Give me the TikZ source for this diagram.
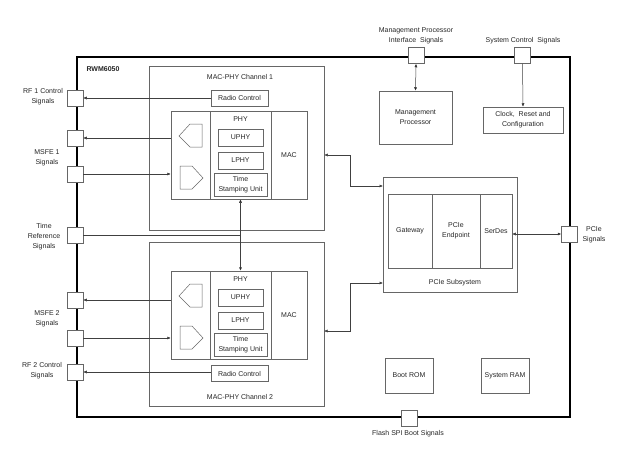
\documentclass[tikz,border=0pt]{standalone}
\usepackage{fontspec}
\setmainfont{Liberation Sans}
\usepackage{tikz}
\usetikzlibrary{%
  positioning,%
  arrows.meta%
}
\tikzset{
  every node/.style={font=\fontsize{7}{10}\selectfont, text=black!85},
  blk/.style={draw=black!60, line width=0.5pt, inner sep=0pt, align=center},
  port/.style={draw=black!60, fill=white, line width=0.5pt, minimum size=16pt, inner sep=0pt},
  lbl/.style={inner sep=0pt, align=center},
  sig/.style={draw=black!75, line width=0.5pt},
  >={Latex[length=3.5pt,width=3pt]}
}

\begin{document}
\begin{tikzpicture}[x=1pt, y=-1pt]
\useasboundingbox (0,0) rectangle (629,463);

% chip outline
\node[draw=black, line width=1.1pt, minimum width=493pt, minimum height=360pt, inner sep=0pt] (chip) at (323.5,237) {};
\node[lbl, font=\fontsize{7}{10}\selectfont\bfseries] (chipname) at (103,69) {RWM6050};

% MAC-PHY channel 1
\node[blk, minimum width=175pt, minimum height=164pt] (ch1) at (236.5,148) {};
\node[lbl] (ch1name) at (240,77) {MAC-PHY Channel 1};
\node[blk, minimum width=57pt, minimum height=16pt] (rc1) at (239.5,98) {Radio Control};
\node[blk, minimum width=39pt, minimum height=88pt] (conv1) at (190.5,155) {};
\node[blk, minimum width=61pt, minimum height=88pt] (phyc1) at (240.5,155) {};
\node[blk, minimum width=36pt, minimum height=88pt] (mac1) at (289,155) {MAC};
\node[lbl] (phy1name) at (240.5,119) {PHY};
\node[blk, minimum width=45pt, minimum height=17pt] (uphy1) at (240.5,137.5) {UPHY};
\node[blk, minimum width=45pt, minimum height=17pt] (lphy1) at (240.5,160.5) {LPHY};
\node[blk, minimum width=53pt, minimum height=23pt] (tsu1) at (240.5,184.5) {Time\\Stamping Unit};
\draw[blk] (179,136) -- (190,124) -- (202,124) -- (202,147) -- (190,147) -- cycle;
\draw[blk] (180,166) -- (192,166) -- (203,178) -- (192,189) -- (180,189) -- cycle;

% MAC-PHY channel 2
\node[blk, minimum width=175pt, minimum height=164pt] (ch2) at (236.5,324) {};
\node[lbl] (ch2name) at (240,397) {MAC-PHY Channel 2};
\node[blk, minimum width=57pt, minimum height=16pt] (rc2) at (239.5,373.5) {Radio Control};
\node[blk, minimum width=39pt, minimum height=88pt] (conv2) at (190.5,315) {};
\node[blk, minimum width=61pt, minimum height=88pt] (phyc2) at (240.5,315) {};
\node[blk, minimum width=36pt, minimum height=88pt] (mac2) at (289,315) {MAC};
\node[lbl] (phy2name) at (240.5,279) {PHY};
\node[blk, minimum width=45pt, minimum height=17pt] (uphy2) at (240.5,297.5) {UPHY};
\node[blk, minimum width=45pt, minimum height=17pt] (lphy2) at (240.5,320.5) {LPHY};
\node[blk, minimum width=53pt, minimum height=23pt] (tsu2) at (240.5,344.5) {Time\\Stamping Unit};
\draw[blk] (179,296) -- (190,284) -- (202,284) -- (202,307) -- (190,307) -- cycle;
\draw[blk] (180,326) -- (192,326) -- (203,338) -- (192,349) -- (180,349) -- cycle;

% right-hand blocks
\node[blk, minimum width=73pt, minimum height=53pt] (mp) at (415.5,117.5) {Management\\Processor};
\node[blk, minimum width=80pt, minimum height=26pt] (clk) at (523,120) {Clock,~ Reset and\\Configuration};
\node[blk, minimum width=134pt, minimum height=115pt] (pcie) at (450,234.5) {};
\node[blk, minimum width=44pt, minimum height=74pt] (gateway) at (410,231) {Gateway};
\node[blk, minimum width=48pt, minimum height=74pt] (endpoint) at (456,231) {PCIe\\Endpoint};
\node[blk, minimum width=32pt, minimum height=74pt] (serdes) at (496,231) {SerDes};
\node[lbl] (pciename) at (455,283) {PCIe Subsystem};
\node[blk, minimum width=48pt, minimum height=35pt] (bootrom) at (409,375.5) {Boot ROM};
\node[blk, minimum width=48pt, minimum height=35pt] (sysram) at (505,375.5) {System RAM};

% ports on the chip edge
\node[port] (rf1pin) at (75,98) {};
\node[port] (ms1a) at (75,138) {};
\node[port] (ms1b) at (75,174) {};
\node[port] (trpin) at (75,235) {};
\node[port] (ms2a) at (75,300) {};
\node[port] (ms2b) at (75,338) {};
\node[port] (rf2pin) at (75,372) {};
\node[port] (mppin) at (416,55.5) {};
\node[port] (scpin) at (522.5,55.5) {};
\node[port] (pciepin) at (569.5,234) {};
\node[port] (flashpin) at (409,418) {};

% port labels
\node[lbl] (rf1lbl) at (43,97) {RF 1 Control\\Signals};
\node[lbl] (ms1lbl) at (47,158) {MSFE 1\\Signals};
\node[lbl] (trlbl) at (44,237) {Time\\Reference\\Signals};
\node[lbl] (ms2lbl) at (47,319) {MSFE 2\\Signals};
\node[lbl] (rf2lbl) at (42,371) {RF 2 Control\\Signals};
\node[lbl] (mplbl) at (416,36) {Management Processor\\Interface~ Signals};
\node[lbl] (sclbl) at (523,41) {System Control~ Signals};
\node[lbl] (pcielbl) at (594,234.5) {PCIe\\Signals};
\node[lbl] (flashlbl) at (408,434) {Flash SPI Boot Signals};

% bus to the PCIe subsystem
\coordinate (bus) at (350,0);
\coordinate (pciein1) at (383,186);
\coordinate (pciein2) at (383,283);
\coordinate (ch2port) at (324,331);

\draw[sig]
	(rc1.west) edge[->] (rf1pin.east)
	(conv1.west |- ms1a) edge[->] (ms1a.east)
	(ms1b.east) edge[->] (conv1.west |- ms1b)
	(trpin.east) edge (trpin -| phyc1.south)
	(phyc1.south) edge[<->] (phyc2.north)
	(conv2.west |- ms2a) edge[->] (ms2a.east)
	(ms2b.east) edge[->] (conv2.west |- ms2b)
	(rf2pin -| rc2.west) edge[->] (rf2pin.east)
	(mppin.south) edge[<->] (mp.north)
	(scpin.south) edge[->] (clk.north)
	(pciepin -| serdes.east) edge[<->] (pciepin.west)
;
\draw[sig,<->] (ch1.east |- mac1) -- (bus |- mac1) |- (pciein1);
\draw[sig,<->] (pciein2) -- (bus |- pciein2) |- (ch2port);
\end{tikzpicture}
\end{document}
